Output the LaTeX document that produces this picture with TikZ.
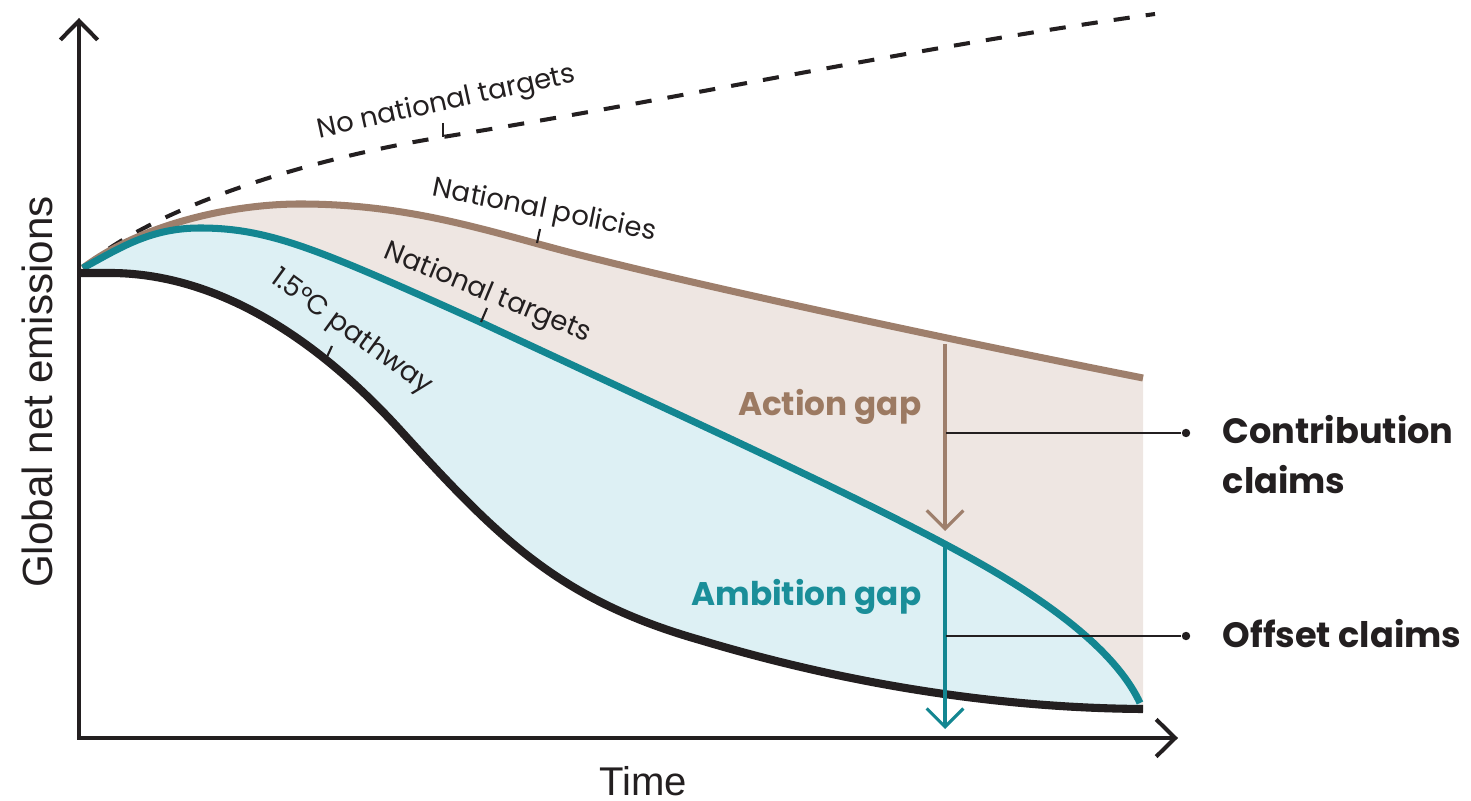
\documentclass[tikz,border=0pt]{standalone}
\usepackage{fontspec}
\setmainfont{Liberation Sans}
\newfontfamily\geo{Poppins}
\usetikzlibrary{arrows.meta}
\definecolor{brownline}{HTML}{9E7F6C}
\definecolor{brownfill}{HTML}{EEE6E2}
\definecolor{tealline}{HTML}{138691}
\definecolor{bluefill}{HTML}{DDF0F4}
\definecolor{browntext}{HTML}{9C7A62}
\definecolor{tealtext}{HTML}{1A8E99}
\definecolor{ink}{HTML}{231F20}
\begin{document}
\begin{tikzpicture}[x=0.01cm,y=-0.01cm,
  brownpath/.style={insert path={(83,268) .. controls (140,225) and (230,204) .. (300,204) .. controls (420,204) and (500,236) .. (600,260) .. controls (720,290) and (950,340) .. (1143,378)}},
  tealpath/.style={insert path={(83,268) .. controls (120,248) and (150,228) .. (200,228) .. controls (270,228) and (320,250) .. (480,322) .. controls (700,425) and (900,515) .. (1000,575) .. controls (1070,617) and (1120,660) .. (1140,703)}},
  blackpath/.style={insert path={(79,273) -- (110,273) .. controls (200,273) and (300,320) .. (400,430) .. controls (500,540) and (560,600) .. (700,640) .. controls (850,685) and (1000,708) .. (1143,709)}},
  dashpath/.style={insert path={(83,268) .. controls (150,210) and (300,160) .. (443,137) .. controls (700,95) and (900,50) .. (1155,14)}},
  curvelabel/.style={font=\geo\fontsize{7.8}{9}\selectfont, text=ink, inner sep=0pt, anchor=base},
  ticks/.style={draw=ink, line width=0.6pt},
  gaplabel/.style={font=\geo\bfseries\fontsize{9.3}{12}\selectfont, inner sep=0pt, anchor=base east},
  claim/.style={font=\geo\bfseries\fontsize{10}{14.2}\selectfont, text=ink, inner sep=0pt, align=left},
  dot/.style={circle, fill=ink, inner sep=0pt, minimum size=2.4pt},
  chev/.style={-{Straight Barb[length=5.2pt,width=10.4pt]}},
  axischev/.style={{Straight Barb[length=5.4pt,width=10.6pt]}-{Straight Barb[length=5.4pt,width=10.6pt]}}
]
\useasboundingbox (0,0) rectangle (1471,801);
% fills
\fill[brownfill, brownpath] -- (1143,709) -- (83,709) -- cycle;
\fill[bluefill, tealpath] -- (1143,709) -- (83,709) -- cycle;
\fill[white, blackpath] -- (1143,736) -- (79,736) -- cycle;
% curves
\draw[ink, line width=1.15pt, dash pattern=on 4.6pt off 4.6pt, dashpath];
\draw[brownline, line width=2.0pt, brownpath];
\draw[tealline, line width=2.0pt, tealpath];
\draw[ink, line width=2.3pt, blackpath];
% axes
\coordinate (ytop) at (79,18);
\coordinate (origin) at (79,738);
\coordinate (xend) at (1178,738);
\draw[ink, line width=1.15pt, axischev, line join=miter] (ytop) -- (origin) -- (xend);
\node[rotate=90, font=\fontsize{12}{14}\selectfont, text=ink, inner sep=0pt] (ylab) at (37,392) {Global net emissions};
\node[font=\fontsize{11.4}{14}\selectfont, text=ink, inner sep=0pt, anchor=base] (xlab) at (643,795) {Time};
% curve labels and ticks
\node[curvelabel, rotate=12.3] (lnone) at (448,110) {No national targets};
\coordinate (tn1) at (443,123); \coordinate (tn2) at (443,137);
\draw[ticks] (tn1) -- (tn2);
\node[curvelabel, rotate=-11.3] (lpol) at (543,218) {National policies};
\coordinate (tp1) at (540,229); \coordinate (tp2) at (537,243);
\draw[ticks] (tp1) -- (tp2);
\node[curvelabel, rotate=-22.5] (ltar) at (485,300) {National targets};
\coordinate (tt1) at (487,308); \coordinate (tt2) at (481,322);
\draw[ticks] (tt1) -- (tt2);
\node[curvelabel, rotate=-36] (lpath) at (347,338) {1.5°C pathway};
\coordinate (tq1) at (332,346); \coordinate (tq2) at (326,359);
\draw[ticks] (tq1) -- (tq2);
% gap arrows
\coordinate (pa) at (945,344); \coordinate (ta) at (945,531);
\coordinate (pb) at (945,543); \coordinate (tb) at (945,729);
\draw[brownline, line width=0.9pt, chev] (pa) -- (ta);
\draw[tealline, line width=0.9pt, chev] (pb) -- (tb);
\node[gaplabel, text=browntext] (action) at (922,416) {Action gap};
\node[gaplabel, text=tealtext] (ambition) at (922,605) {Ambition gap};
% claims
\coordinate (ja) at (946,433); \node[dot] (da) at (1186,433) {};
\coordinate (jb) at (946,636); \node[dot] (db) at (1186,636) {};
\draw[ink, line width=0.6pt] (ja) -- (da);
\draw[ink, line width=0.6pt] (jb) -- (db);
\node[claim, anchor=north west] (contrib) at (1222,415) {Contribution\\claims};
\node[claim, anchor=base west] (offset) at (1222,647) {Offset claims};
\end{tikzpicture}
\end{document}
